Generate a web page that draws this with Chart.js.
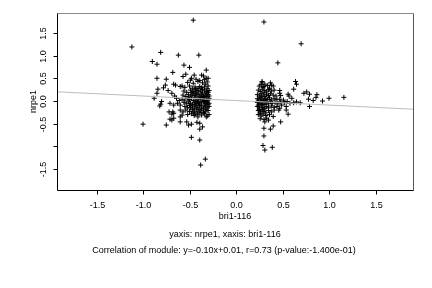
<!DOCTYPE html>
<html>
<head>
<meta charset="utf-8">
<script src="https://cdn.jsdelivr.net/npm/chart.js@4"></script>
<style>
  html, body { margin: 0; padding: 0; background: #fff; }
  canvas { display: block; }
</style>
</head>
<body>
<canvas id="chart" width="432" height="288"></canvas>
<script>
/* bri1-116 vs nrpe1 module scatter */

// [bri1-116, nrpe1] pairs
const leftOutliers = [
  [-1.12, 1.19], [-0.46, 1.78], [-0.81, 1.07], [-0.62, 1.01], [-0.40, 1.01], [-0.90, 0.87],
  [-0.85, 0.81], [-0.56, 0.79], [-0.50, 0.74], [-0.68, 0.63], [-0.32, 0.68], [-0.54, 0.59],
  [-0.57, 0.54], [-0.45, 0.57], [-0.48, 0.50], [-0.37, 0.57], [-0.35, 0.55], [-0.32, 0.50],
  [-0.85, 0.50], [-0.75, 0.48], [-0.67, 0.37], [-0.65, 0.35], [-0.76, 0.35], [-0.78, 0.29],
  [-0.84, 0.26], [-0.85, 0.17], [-0.73, 0.23], [-0.69, 0.17], [-0.66, 0.11], [-0.60, 0.32],
  [-0.58, 0.33], [-0.88, 0.06], [-0.80, -0.01], [-0.81, -0.07], [-0.82, -0.11], [-0.64, 0.06],
  [-0.61, 0.01], [-0.63, -0.05], [-0.60, -0.09], [-0.67, -0.09], [-0.71, -0.05], [-0.72, -0.24],
  [-0.68, -0.24], [-0.69, -0.29], [-0.67, -0.27], [-0.60, -0.20], [-0.57, -0.24], [-0.60, -0.35],
  [-0.58, -0.31], [-0.71, -0.40], [-0.69, -0.42], [-0.67, -0.38], [-0.60, -0.46], [-0.53, -0.46],
  [-0.48, -0.51], [-0.51, -0.53], [-0.42, -0.47], [-0.39, -0.49], [-0.36, -0.57], [-0.39, -0.62],
  [-1.00, -0.51], [-0.75, -0.53], [-0.48, -0.80], [-0.39, -0.86], [-0.33, -1.28], [-0.38, -1.41],
  [-0.32, -0.35], [-0.41, -0.35], [-0.44, -0.29],
];

const leftCore = [
  [-0.52, 0.41], [-0.46, 0.39], [-0.41, 0.43], [-0.36, 0.40], [-0.31, 0.42], [-0.33, 0.37],
  [-0.55, 0.30], [-0.50, 0.33], [-0.47, 0.28], [-0.44, 0.31], [-0.42, 0.27], [-0.39, 0.32],
  [-0.37, 0.29], [-0.34, 0.31], [-0.31, 0.27], [-0.30, 0.33],
  [-0.56, 0.22], [-0.53, 0.19], [-0.49, 0.24], [-0.46, 0.21], [-0.44, 0.18], [-0.42, 0.23],
  [-0.40, 0.20], [-0.38, 0.22], [-0.36, 0.18], [-0.34, 0.24], [-0.32, 0.21], [-0.30, 0.19], [-0.29, 0.23],
  [-0.57, 0.13], [-0.54, 0.10], [-0.51, 0.14], [-0.49, 0.11], [-0.47, 0.15], [-0.45, 0.12],
  [-0.43, 0.09], [-0.41, 0.14], [-0.39, 0.11], [-0.37, 0.15], [-0.35, 0.10], [-0.33, 0.13],
  [-0.31, 0.09], [-0.30, 0.14], [-0.29, 0.11],
  [-0.58, 0.04], [-0.55, 0.02], [-0.52, 0.06], [-0.50, 0.03], [-0.48, 0.07], [-0.46, 0.01],
  [-0.44, 0.05], [-0.42, 0.02], [-0.40, 0.06], [-0.38, 0.03], [-0.36, 0.07], [-0.34, 0.01],
  [-0.32, 0.05], [-0.30, 0.02], [-0.29, 0.06],
  [-0.56, -0.03], [-0.53, -0.06], [-0.51, -0.02], [-0.49, -0.05], [-0.47, -0.08], [-0.45, -0.03],
  [-0.43, -0.06], [-0.41, -0.02], [-0.39, -0.07], [-0.37, -0.04], [-0.35, -0.01], [-0.33, -0.06],
  [-0.31, -0.03], [-0.29, -0.05],
  [-0.55, -0.12], [-0.52, -0.15], [-0.50, -0.10], [-0.47, -0.13], [-0.45, -0.16], [-0.43, -0.11],
  [-0.41, -0.14], [-0.39, -0.10], [-0.37, -0.13], [-0.35, -0.16], [-0.33, -0.11], [-0.31, -0.14], [-0.29, -0.12],
  [-0.54, -0.20], [-0.50, -0.23], [-0.47, -0.19], [-0.45, -0.22], [-0.42, -0.24], [-0.40, -0.19],
  [-0.38, -0.22], [-0.35, -0.20], [-0.33, -0.24], [-0.30, -0.21],
  [-0.52, -0.30], [-0.48, -0.28], [-0.45, -0.32], [-0.41, -0.29], [-0.37, -0.31], [-0.34, -0.28],
  [-0.31, -0.33], [-0.29, -0.30],
  [-0.49, 0.46], [-0.43, 0.48], [-0.39, 0.45], [-0.34, 0.47], [-0.30, 0.50],
  // densest part of the left module
  [-0.44, 0.26], [-0.40, 0.28], [-0.36, 0.25], [-0.32, 0.17], [-0.43, 0.16], [-0.38, 0.08],
  [-0.34, 0.09], [-0.42, -0.01], [-0.36, 0.03], [-0.32, -0.01], [-0.44, -0.09], [-0.40, -0.04],
  [-0.34, -0.09], [-0.30, -0.08], [-0.42, -0.18], [-0.37, -0.17], [-0.32, -0.18], [-0.39, -0.26],
  [-0.35, -0.25], [-0.48, 0.19], [-0.51, 0.09], [-0.49, -0.15], [-0.46, -0.26],
];

const rightCore = [
  [0.25, 0.33], [0.27, 0.36], [0.30, 0.32], [0.34, 0.34], [0.40, 0.33],
  [0.24, 0.24], [0.26, 0.21], [0.28, 0.26], [0.31, 0.23], [0.33, 0.20], [0.35, 0.25], [0.38, 0.22], [0.41, 0.24],
  [0.23, 0.14], [0.25, 0.11], [0.27, 0.16], [0.29, 0.13], [0.31, 0.10], [0.33, 0.15], [0.35, 0.12],
  [0.37, 0.16], [0.40, 0.13], [0.43, 0.11],
  [0.23, 0.05], [0.24, 0.02], [0.26, 0.07], [0.28, 0.04], [0.30, 0.01], [0.32, 0.06], [0.34, 0.03],
  [0.36, 0.07], [0.38, 0.02], [0.41, 0.05], [0.44, 0.03], [0.47, 0.04], [0.51, 0.02],
  [0.23, -0.03], [0.25, -0.06], [0.27, -0.02], [0.29, -0.05], [0.31, -0.08], [0.33, -0.03], [0.35, -0.06],
  [0.37, -0.01], [0.39, -0.05], [0.42, -0.03], [0.45, -0.06], [0.48, -0.02], [0.52, -0.04], [0.55, -0.01],
  [0.23, -0.12], [0.25, -0.15], [0.27, -0.11], [0.29, -0.14], [0.31, -0.17], [0.33, -0.12], [0.35, -0.15],
  [0.38, -0.11], [0.41, -0.14], [0.44, -0.12],
  [0.24, -0.21], [0.26, -0.24], [0.28, -0.20], [0.30, -0.23], [0.32, -0.26], [0.35, -0.21], [0.38, -0.24], [0.41, -0.20],
  [0.24, -0.30], [0.27, -0.33], [0.29, -0.29], [0.32, -0.32], [0.36, -0.30], [0.40, -0.34],
  [0.26, -0.39], [0.30, -0.41], [0.28, 0.43],
  // densest part of the right module
  [0.26, 0.00], [0.28, -0.08], [0.25, -0.19], [0.27, 0.09], [0.30, 0.18], [0.24, -0.09],
  [0.32, -0.02], [0.29, -0.18], [0.26, -0.27], [0.31, 0.04],
];

const rightOutliers = [
  [0.30, 1.74], [0.70, 1.26], [0.45, 0.84], [0.28, 0.40], [0.31, 0.37], [0.37, 0.40], [0.38, 0.35],
  [0.29, 0.30], [0.36, 0.28], [0.47, 0.23], [0.47, 0.17], [0.48, 0.12], [0.56, 0.15], [0.57, 0.11],
  [0.60, 0.06], [0.64, 0.43], [0.65, 0.37], [0.62, 0.26], [0.73, 0.17], [0.76, 0.20], [0.79, 0.15],
  [0.87, 0.14], [0.86, 0.08], [0.93, 0.00], [1.00, 0.06], [1.16, 0.08], [0.83, 0.01], [0.78, 0.04],
  [0.69, -0.04], [0.58, -0.05], [0.62, -0.04], [0.65, -0.02], [0.49, -0.09], [0.47, -0.16],
  [0.46, -0.20], [0.54, -0.20], [0.56, -0.29], [0.54, -0.12], [0.79, -0.12], [0.48, -0.46],
  [0.40, -0.55], [0.37, -0.62], [0.30, -0.60], [0.33, -0.38], [0.35, -0.42], [0.31, -0.46],
  [0.30, -0.77], [0.29, -0.98], [0.31, -1.08], [0.39, -1.02],
];

// fit shown in the caption
const slope = -0.10;
const intercept = 0.01;

const xTicks = [-1.5, -1.0, -0.5, 0.0, 0.5, 1.0, 1.5];
const yTicks = [-1.5, -1.0, -0.5, 0.0, 0.5, 1.0, 1.5];
const yTickLabelSkip = [-1.0];

const xTitle = "bri1-116";
const yTitle = "nrpe1";
const subTitle = "yaxis: nrpe1, xaxis: bri1-116";
const caption = "Correlation of module: y=-0.10x+0.01, r=0.73 (p-value:-1.400e-01)";

const X_MIN = -1.925, X_MAX = 1.903;
const Y_MIN = -1.96, Y_MAX = 1.938;
const FONT = "9px 'Liberation Sans', Arial, Helvetica, sans-serif";

const points = [...leftOutliers, ...leftCore, ...rightCore, ...rightOutliers].map(p => ({ x: p[0], y: p[1] }));
const fitLine = [X_MIN, X_MAX].map(x => ({ x, y: slope * x + intercept }));

// R-like frame, ticks and text, placed with the chart's scales
const rAxes = {
  id: "rAxes",
  afterDraw(chart) {
    const ctx = chart.ctx, a = chart.chartArea;
    const xs = chart.scales.x, ys = chart.scales.y;
    ctx.save();
    ctx.lineWidth = 1;

    const L = Math.round(a.left) + 0.5, R = Math.round(a.right) + 0.5;
    const T = Math.round(a.top) + 0.5, B = Math.round(a.bottom) + 0.5;
    const seg = (x1, y1, x2, y2, col) => {
      ctx.strokeStyle = col;
      ctx.beginPath(); ctx.moveTo(x1, y1); ctx.lineTo(x2, y2); ctx.stroke();
    };
    seg(L, T, R, T, "#8a8a8a");
    seg(R, T, R, B, "#555");
    seg(L, T, L, B, "#000");
    seg(L, B, R, B, "#000");

    ctx.fillStyle = "#000";
    ctx.font = FONT;

    // x ticks
    ctx.textAlign = "center";
    ctx.textBaseline = "alphabetic";
    xTicks.forEach(v => {
      const px = Math.round(xs.getPixelForValue(v)) + 0.5;
      seg(px, B, px, B + 4, "#000");
      ctx.fillText(v.toFixed(1), px, 207.5);
    });

    // y ticks, labels turned like R
    yTicks.forEach(v => {
      const py = Math.round(ys.getPixelForValue(v)) + 0.5;
      seg(L, py, L - 4, py, "#000");
      if (yTickLabelSkip.includes(v)) return;
      ctx.save();
      ctx.translate(45.5, py);
      ctx.rotate(-Math.PI / 2);
      ctx.fillText(v.toFixed(1), 0, 0);
      ctx.restore();
    });

    // titles
    ctx.fillText(xTitle, (a.left + a.right) / 2, 218.5);
    ctx.save();
    ctx.translate(36, (a.top + a.bottom) / 2);
    ctx.rotate(-Math.PI / 2);
    ctx.fillText(yTitle, 0, 0);
    ctx.restore();

    ctx.fillText(subTitle, 225, 236.5);
    ctx.fillText(caption, 224, 253);
    ctx.restore();
  },
};

new Chart(document.getElementById("chart"), {
  type: "scatter",
  data: {
    datasets: [
      {
        label: "fit", type: "line", data: fitLine, order: 0,
        borderColor: "#bdbdbd", borderWidth: 1, pointRadius: 0, fill: false, tension: 0,
      },
      {
        label: "genes", data: points, order: 1,
        pointStyle: "cross", pointRadius: 2.5, pointHoverRadius: 2.5,
        borderColor: "#000", backgroundColor: "#000", borderWidth: 1,
      },
    ],
  },
  options: {
    responsive: false,
    animation: false,
    devicePixelRatio: 1,
    layout: { padding: { left: 57, right: 19, top: 13, bottom: 98 } },
    plugins: { legend: { display: false }, tooltip: { enabled: false } },
    scales: {
      x: { type: "linear", min: X_MIN, max: X_MAX, display: false },
      y: { type: "linear", min: Y_MIN, max: Y_MAX, display: false },
    },
  },
  plugins: [rAxes],
});
</script>
</body>
</html>
